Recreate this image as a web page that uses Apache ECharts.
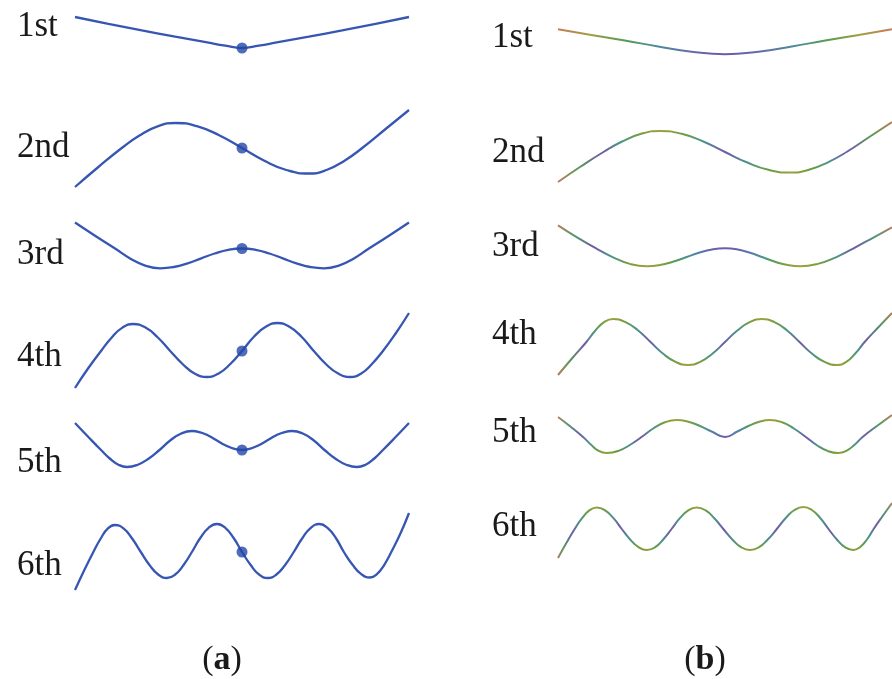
<!DOCTYPE html>
<html>
<head>
<meta charset="utf-8">
<style>
  html, body { margin: 0; padding: 0; background: #fff; }
  #chart { width: 892px; height: 679px; }
</style>
</head>
<body>
<div id="chart"></div>
<script src="https://cdn.jsdelivr.net/npm/echarts@6/dist/echarts.min.js"></script>
<script>
const modeLabels = ['1st', '2nd', '3rd', '4th', '5th', '6th']
const panelLabels = ['a', 'b']

// mode shapes: [position along beam 0..1, deflection]
// panel (a)
const modeA1 = [[0,31],[0.1,24.2],[0.2,17.6],[0.3,11.3],[0.4,5.3],[0.45,2.4],[0.5,0],[0.55,2.4],[0.6,5.3],[0.7,11.3],[0.8,17.6],[0.9,24.2],[1,31]]
const modeA2 = [[0,-39],[0.07,-19],[0.14,0],[0.193,12.5],[0.247,21.6],[0.3,25],[0.367,21.6],[0.433,12.5],[0.5,0],
  [0.567,-12.7],[0.633,-22],[0.7,-25.5],[0.753,-22],[0.807,-12.7],[0.86,0],[0.93,19],[1,38]]
const modeA3 = [[0,26],[0.06,12.8],[0.12,0],[0.165,-9.9],[0.21,-17.1],[0.255,-19.8],[0.296,-18.5],[0.337,-14.9],[0.378,-9.9],[0.418,-5],[0.459,-1.3],[0.5,0],
  [0.541,-1.3],[0.582,-5],[0.622,-9.9],[0.663,-14.9],[0.704,-18.5],[0.745,-19.8],[0.79,-17.1],[0.835,-9.9],[0.88,0],[0.94,12.8],[1,26]]
const modeA4 = [[0,-37],[0.04,-17],[0.078,0],[0.11,13.5],[0.142,23.4],[0.174,27],[0.211,23.4],[0.248,13.5],[0.285,0],
  [0.322,-13],[0.358,-22.5],[0.395,-26],[0.43,-22.5],[0.465,-13],[0.5,0],[0.535,14],[0.571,24.2],[0.606,28],
  [0.642,24.2],[0.679,14],[0.715,0],[0.751,-13],[0.788,-22.5],[0.824,-26],[0.857,-22.5],[0.889,-13],[0.922,0],[0.96,17.5],[1,38]]
const modeA5 = [[0,27],[0.04,13],[0.078,0],[0.104,-8.5],[0.13,-14.7],[0.156,-17],[0.188,-14.7],[0.221,-8.5],[0.253,0],
  [0.285,9.5],[0.318,16.5],[0.35,19],[0.375,17.7],[0.4,14.3],[0.425,9.5],[0.45,4.8],[0.475,1.3],[0.5,0],
  [0.525,1.3],[0.55,4.8],[0.575,9.5],[0.6,14.3],[0.625,17.7],[0.65,19],[0.682,16.5],[0.715,9.5],[0.747,0],
  [0.779,-8.5],[0.812,-14.7],[0.844,-17],[0.87,-14.7],[0.896,-8.5],[0.922,0],[0.96,13],[1,27]]
const modeA6 = [[0,-38],[0.028,-18],[0.055,0],[0.077,13.5],[0.098,23.4],[0.12,27],[0.146,23.4],[0.171,13.5],[0.197,0],
  [0.223,-13],[0.249,-22.5],[0.275,-26],[0.3,-22.5],[0.325,-13],[0.35,0],[0.375,14],[0.4,24.2],[0.425,28],
  [0.45,24.2],[0.475,14],[0.5,0],[0.526,-13],[0.551,-22.5],[0.577,-26],[0.603,-22.5],[0.629,-13],[0.655,0],
  [0.681,14],[0.706,24.2],[0.732,28],[0.756,24.2],[0.781,14],[0.805,0],[0.831,-12.8],[0.857,-22.1],[0.883,-25.5],
  [0.904,-22.1],[0.926,-12.8],[0.947,0],[0.975,19],[1,39]]

// panel (b)
const modeB1 = [[0,25],[0.1,19.3],[0.2,13.8],[0.3,7.8],[0.4,2.6],[0.5,0],[0.6,2.6],[0.7,7.8],[0.8,13.8],[0.9,19.3],[1,25]]
const modeB2 = [[0,-30],[0.068,-14.5],[0.136,0],[0.192,10.5],[0.249,18.2],[0.305,21],[0.37,18.2],[0.435,10.5],[0.5,0],
  [0.565,-10.3],[0.63,-17.8],[0.695,-20.5],[0.751,-17.8],[0.808,-10.3],[0.864,0],[0.932,15],[1,30]]
const modeB3 = [[0,23],[0.057,11],[0.114,0],[0.165,-9],[0.215,-15.6],[0.266,-18],[0.305,-16.8],[0.344,-13.5],[0.383,-9],[0.422,-4.5],[0.461,-1.2],[0.5,0],
  [0.538,-1.2],[0.575,-4.5],[0.613,-9],[0.65,-13.5],[0.688,-16.8],[0.725,-18],[0.778,-15.6],[0.832,-9],[0.885,0],[0.943,10.5],[1,21]]
const modeB4 = [[0,-33],[0.043,-16],[0.085,0],[0.112,11.5],[0.138,19.9],[0.165,23],[0.202,19.9],[0.24,11.5],[0.277,0],
  [0.314,-11.5],[0.352,-19.9],[0.389,-23],[0.426,-19.9],[0.463,-11.5],[0.5,0],[0.537,11.5],[0.574,19.9],[0.611,23],
  [0.648,19.9],[0.686,11.5],[0.723,0],[0.76,-11.5],[0.798,-19.9],[0.835,-23],[0.863,-19.9],[0.89,-11.5],[0.918,0],[0.96,15],[1,29]]
const modeB5 = [[0,20],[0.037,10.5],[0.075,0],[0.099,-7.7],[0.122,-13.9],[0.146,-16],[0.181,-13.9],[0.215,-8],[0.25,0],
  [0.285,8.5],[0.32,14.7],[0.355,17],[0.39,15.3],[0.425,11],[0.46,5.5],[0.5,0],[0.537,5.5],[0.57,11],[0.603,15.3],[0.635,17],
  [0.671,14.7],[0.706,8.5],[0.742,0],[0.774,-8],[0.807,-13.9],[0.839,-16],[0.863,-13.9],[0.888,-7.7],[0.912,0],[0.955,11],[1,22]]
const modeB6 = [[0,-29],[0.025,-14],[0.05,0],[0.072,10.8],[0.094,18.6],[0.116,21.5],[0.141,18.6],[0.166,10.8],[0.191,0],
  [0.216,-10.5],[0.241,-18.2],[0.266,-21],[0.291,-18.2],[0.315,-10.5],[0.34,0],[0.365,10.8],[0.39,18.6],[0.415,21.5],
  [0.442,18.6],[0.468,10.8],[0.495,0],[0.522,-10.5],[0.548,-18.2],[0.575,-21],[0.602,-18.2],[0.628,-10.5],[0.655,0],
  [0.682,11],[0.708,19],[0.735,22],[0.76,19],[0.785,11],[0.81,0],[0.835,-10.5],[0.859,-18.2],[0.884,-21],
  [0.904,-18.2],[0.925,-10.5],[0.945,0],[0.972,13],[1,26]]

// marked point on the (a) shapes
const dotPosition = 0.5

const modesA = [modeA1, modeA2, modeA3, modeA4, modeA5, modeA6]
const modesB = [modeB1, modeB2, modeB3, modeB4, modeB5, modeB6]

// layout (pixels)
const rowYA = [48, 148, 248.5, 351, 450, 552]
const rowYB = [54.3, 152, 248.3, 342, 437, 529]
const labelBaseA = [38, 159, 266, 368, 474, 577]
const labelBaseB = [49, 164, 258, 346, 444, 538]
const panelA = { left: 75, width: 334, labelX: 17 }
const panelB = { left: 558, width: 334, labelX: 492 }

const serif = 'Liberation Serif, DejaVu Serif, serif'

// contour-like colouring for panel (b): purple at nodes, olive at crests, red at free ends
const shade = [
  [0, [112, 90, 168]],
  [0.3, [78, 130, 176]],
  [0.55, [74, 154, 126]],
  [0.8, [96, 156, 62]],
  [1, [160, 160, 62]],
]
function shadeAt(r) {
  for (let i = 1; i < shade.length; i++) {
    if (r <= shade[i][0]) {
      const a = shade[i - 1], b = shade[i]
      const f = (r - a[0]) / (b[0] - a[0])
      const c = a[1].map((v, k) => Math.round(v + (b[1][k] - v) * f))
      return 'rgb(' + c.join(',') + ')'
    }
  }
  return 'rgb(' + shade[shade.length - 1][1].join(',') + ')'
}
function contourStroke(points) {
  const top = Math.max(...points.slice(1, -1).map(p => Math.abs(p[1])))
  const stops = points.map(p => ({ offset: p[0], color: shadeAt(Math.min(1, Math.abs(p[1]) / top)) }))
  stops[0].color = '#c9775c'
  stops[stops.length - 1].color = '#c9775c'
  return new echarts.graphic.LinearGradient(0, 0, 1, 0, stops)
}

const grid = []
const xAxis = []
const yAxis = []
const series = []
const graphic = []

function addRow(panel, rowY, data, stroke, withDot) {
  const idx = grid.length
  grid.push({ left: panel.left, width: panel.width, top: rowY - 50, height: 100, outerBoundsMode: 'none' })
  xAxis.push({ type: 'value', gridIndex: idx, min: 0, max: 1, show: false })
  yAxis.push({ type: 'value', gridIndex: idx, min: -50, max: 50, show: false })
  series.push({
    type: 'line', xAxisIndex: idx, yAxisIndex: idx, data: data,
    smooth: 0.5, showSymbol: false, clip: false, silent: true,
    lineStyle: { color: stroke, width: withDot ? 2.3 : 2 },
  })
  if (withDot) {
    const p = data.find(d => d[0] === dotPosition)
    series.push({
      type: 'scatter', xAxisIndex: idx, yAxisIndex: idx, data: [p],
      symbolSize: 11, silent: true, z: 3,
      itemStyle: { color: '#2347a8' },
    })
  }
}

modesA.forEach((d, i) => addRow(panelA, rowYA[i], d, '#3756b3', true))
modesB.forEach((d, i) => addRow(panelB, rowYB[i], d, contourStroke(d), false))

function addLabel(x, baseline, text) {
  graphic.push({
    type: 'text', x: x, y: baseline - 11.5, silent: true,
    style: {
      text: text, x: 0, y: 0, fontFamily: serif, fontSize: 35, fill: '#1a1a1a',
      align: 'left', verticalAlign: 'middle', textAlign: 'left', textVerticalAlign: 'middle',
    },
  })
}
modeLabels.forEach((t, i) => {
  addLabel(panelA.labelX, labelBaseA[i], t)
  addLabel(panelB.labelX, labelBaseB[i], t)
})

const captionX = [222, 705]
panelLabels.forEach((t, i) => {
  graphic.push({
    type: 'text', x: captionX[i], y: 660, silent: true,
    style: {
      text: '{p|(}{b|' + t + '}{p|)}',
      rich: {
        p: { fontFamily: serif, fontSize: 34, fill: '#1a1a1a' },
        b: { fontFamily: serif, fontSize: 34, fontWeight: 'bold', fill: '#1a1a1a' },
      },
      align: 'center', verticalAlign: 'middle', textAlign: 'center', textVerticalAlign: 'middle',
    },
  })
})

const chart = echarts.init(document.getElementById('chart'))
chart.setOption({
  backgroundColor: '#fff',
  animation: false,
  grid, xAxis, yAxis, series, graphic,
})
</script>
</body>
</html>
